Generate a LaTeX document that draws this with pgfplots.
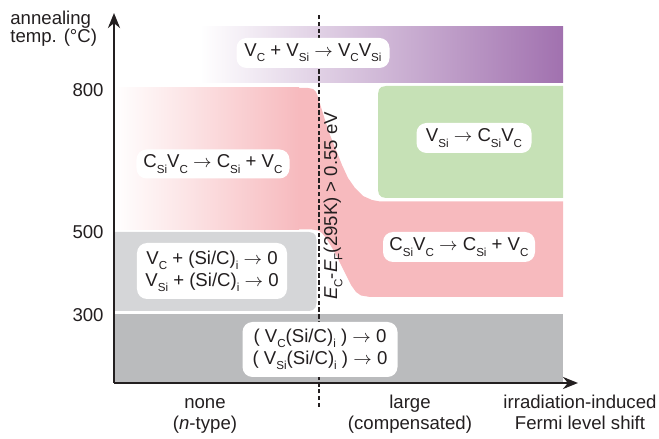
\documentclass[border=0pt]{standalone}
\usepackage{pgfplots}
\pgfplotsset{compat=1.18}
\usepackage{fontspec}
\setmainfont{Liberation Sans}
\usetikzlibrary{arrows.meta}
\definecolor{pinkC}{RGB}{247,186,190}
\definecolor{purpleC}{RGB}{161,113,175}
\definecolor{greenC}{RGB}{198,225,182}
\definecolor{lgreyC}{RGB}{213,214,216}
\definecolor{dgreyC}{RGB}{186,187,189}
\definecolor{textC}{RGB}{35,31,32}
\newcommand{\s}[1]{\raisebox{-0.28em}{\fontsize{5.8}{6}\selectfont #1}}
\newcommand{\ra}{$\rightarrow$}
\tikzset{
  box/.style={fill=white, rounded corners=5pt, inner sep=0pt, text=textC, align=center, font=\fontsize{9.3}{11}\selectfont},
  lab/.style={inner sep=0pt, text=textC, anchor=base},
}
\begin{document}
\begin{tikzpicture}[font=\fontsize{9.3}{10.5}\selectfont]
\begin{axis}[
  x=0.5pt, y=0.5pt, xmin=0, xmax=464, ymin=0, ymax=370,
  axis lines=left,
  axis line style={line width=1.3pt, draw=textC, -{Stealth[length=7.5pt,width=6pt]}},
  xtick=\empty, ytick={68,151,293}, yticklabels={300,500,800},
  major tick length=0pt,
  yticklabel style={inner sep=0pt, xshift=-5pt, text=textC, font=\fontsize{9.3}{10.5}\selectfont},
  clip=false, axis on top,
]
% dark grey band
\addplot[draw=none, fill=dgreyC] coordinates {(0,0) (449,0) (449,69) (0,69)} -- cycle;
% light grey box
\addplot[draw=none, fill=lgreyC] coordinates {(0,72) (195,72) (199,73) (201.5,75.5) (202.5,80) (202.5,143) (201.5,147.5) (199,150) (195,151) (0,151)} -- cycle;
% pink band
\addplot[draw=none, fill=pinkC] coordinates {
 (0,153.5) (0,295) (194,295) (199,294) (202,291) (204,286) (207,276) (211,263) (216,248)
 (222,233) (228,218) (234,205) (241,195) (249,187) (258,183) (266,181.5) (449,181.5)
 (449,86) (256,86) (247,87.5) (242,91) (237,98) (232,108) (227,118) (222,128) (217,137)
 (212,145) (208,150) (204,152.5) (198,153.5)} -- cycle;
\addplot[draw=none, left color=white, right color=pinkC] coordinates {(0,153.5) (185,153.5) (185,295) (0,295)} -- cycle;
% green box
\addplot[draw=none, fill=greenC] coordinates {(449,185) (272,185) (267.5,186) (265,188.5) (264,193) (264,289) (265,293.5) (267.5,296) (272,297) (449,297)} -- cycle;
% purple band
\addplot[draw=none, left color=white, right color=purpleC] coordinates {(86,300) (449,300) (449,356) (86,356)} -- cycle;

% dashed threshold line
\addplot[line width=1pt, dash pattern=on 2.2pt off 1.2pt, draw=textC] coordinates {(205,-24) (205,368)};

% labels in boxes
\node[box, minimum width=76.5pt, minimum height=15pt] at (axis cs:199,330) {V\s{C} + V\s{Si} \ra{} V\s{C}V\s{Si}};
\node[box, minimum width=76.5pt, minimum height=14.5pt] at (axis cs:99,219) {C\s{Si}V\s{C} \ra{} C\s{Si} + V\s{C}};
\node[box, minimum width=57.5pt, minimum height=15pt] at (axis cs:360,245) {V\s{Si} \ra{} C\s{Si}V\s{C}};
\node[box, minimum width=76pt, minimum height=15pt] at (axis cs:345,136) {C\s{Si}V\s{C} \ra{} C\s{Si} + V\s{C}};
\node[box, minimum width=75pt, minimum height=28pt] at (axis cs:98,112) {V\s{C} + (Si/C)\s{i} \ra{} 0\\V\s{Si} + (Si/C)\s{i} \ra{} 0};
\node[box, minimum width=77.5pt, minimum height=27.5pt] at (axis cs:206,33.5) {( V\s{C}(Si/C)\s{i} ) \ra{} 0\\( V\s{Si}(Si/C)\s{i} ) \ra{} 0};

% rotated threshold label
\node[inner sep=0pt, text=textC, rotate=90] at (axis cs:219,177) {\textit{E}\s{C}-\textit{E}\s{F}(295K) > 0.55 eV};

% axis texts
\node[lab, anchor=base west] at (axis cs:-104,358) {annealing};
\node[lab, anchor=base west] at (axis cs:-104,340) {temp. (°C)};
\node[lab] at (axis cs:91,-26) {none};
\node[lab] at (axis cs:91,-47) {(\textit{n}-type)};
\node[lab] at (axis cs:296,-26) {large};
\node[lab] at (axis cs:296,-47) {(compensated)};
\node[lab] at (axis cs:466,-26) {irradiation-induced};
\node[lab] at (axis cs:466,-47) {Fermi level shift};

\coordinate (bbA) at (axis cs:-114,-56);
\coordinate (bbB) at (axis cs:545,383);
\end{axis}
\pgfresetboundingbox
\path[use as bounding box] (bbA) rectangle (bbB);
\end{tikzpicture}
\end{document}
